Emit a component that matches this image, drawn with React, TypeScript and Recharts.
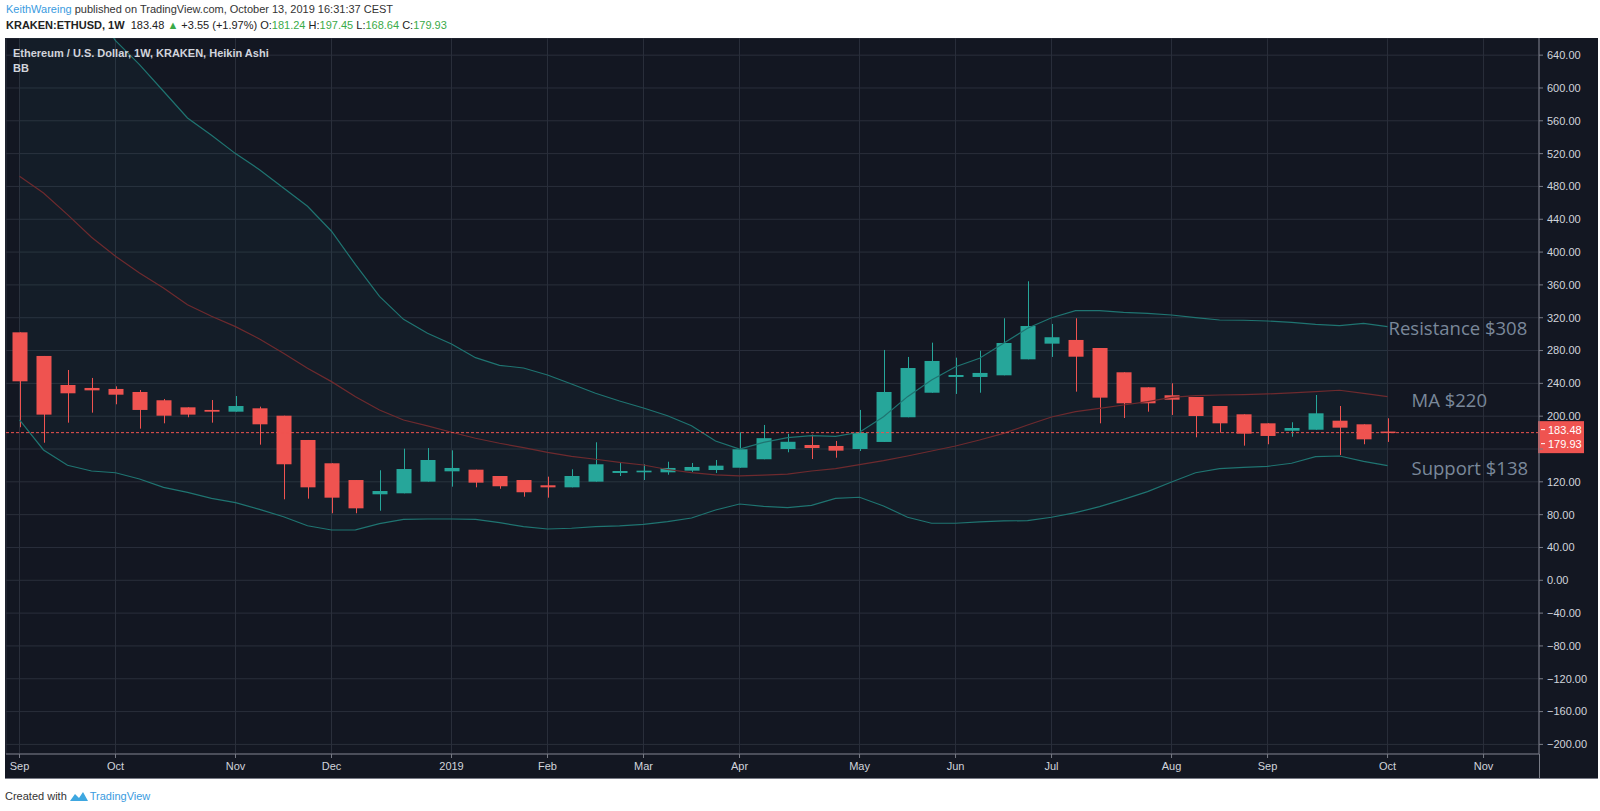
import {
  ComposedChart,
  Bar,
  Line,
  Area,
  XAxis,
  YAxis,
  CartesianGrid,
  ReferenceLine,
  ReferenceDot,
} from 'recharts';

// weekly Heikin Ashi candles, KRAKEN:ETHUSD, week of Sep 3 2018 -> week of Oct 7 2019
const opens = [
  302.2, 273.4, 238.0, 234.4, 233.2, 229.5, 219.4, 210.8, 207.6, 205.5,
  209.6, 200.6, 171.0, 142.6, 122.2, 104.8, 106.0, 120.2, 132.8, 134.8,
  127.1, 122.2, 115.8, 113.3, 120.2, 130.8, 131.6, 131.6, 133.6, 134.4,
  137.2, 147.5, 160.0, 164.9, 163.7, 160.0, 168.6, 198.7, 228.6, 247.8,
  247.8, 249.8, 269.3, 288.4, 292.9, 283.1, 253.5, 235.2, 225.5, 223.4,
  212.4, 202.3, 191.3, 182.3, 183.5, 194.5, 190.1, 181.24,
];
const highs = [
  302.2, 273.4, 256.3, 246.6, 236.4, 231.9, 221.0, 210.8, 219.7, 224.6,
  211.6, 200.6, 171.0, 142.6, 122.2, 134.1, 160.4, 161.2, 158.4, 134.8,
  127.1, 122.2, 126.3, 135.3, 168.2, 143.0, 141.4, 144.5, 143.0, 146.6,
  180.4, 189.3, 178.5, 177.5, 169.8, 207.6, 280.7, 272.2, 289.6, 271.3,
  279.8, 319.3, 364.4, 312.4, 319.3, 283.1, 253.5, 235.2, 240.1, 223.4,
  212.4, 202.3, 191.3, 192.6, 225.8, 212.4, 190.1, 197.45,
];
const lows = [
  186.5, 167.7, 192.1, 204.3, 214.5, 184.8, 191.3, 198.7, 192.1, 205.5,
  165.3, 98.7, 99.5, 81.7, 81.7, 84.8, 106.0, 120.2, 114.1, 113.3,
  111.6, 101.9, 100.7, 113.3, 120.2, 127.1, 122.2, 128.7, 132.0, 130.8,
  137.2, 147.5, 156.0, 147.8, 149.4, 157.6, 168.6, 198.7, 228.6, 227.1,
  228.6, 249.8, 269.3, 272.2, 229.9, 191.3, 197.8, 205.5, 201.5, 174.3,
  179.9, 164.1, 165.8, 175.0, 183.5, 152.7, 165.8, 168.64,
];
const closes = [
  242.5, 201.9, 227.9, 231.5, 226.2, 207.6, 200.6, 201.9, 205.5, 212.4,
  190.1, 141.4, 113.3, 100.7, 87.7, 108.8, 135.6, 146.6, 136.9, 119.0,
  114.6, 107.3, 113.3, 127.1, 141.4, 133.2, 133.6, 136.9, 138.1, 139.7,
  159.7, 173.2, 168.8, 161.2, 158.0, 179.5, 229.5, 258.7, 267.3, 250.2,
  252.7, 289.2, 309.9, 296.2, 272.5, 222.6, 215.7, 215.7, 220.1, 200.2,
  191.3, 178.7, 175.9, 185.6, 203.5, 186.0, 171.8, 179.93,
];

// Bollinger Bands (20, 2)
const bbUpper = [
  789, 785, 751, 703, 657.6, 628.4, 596, 563.4, 542.4, 520,
  500.4, 478.1, 455.8, 425.4, 384.6, 346, 318, 301, 288, 271.3,
  262, 258.7, 250.2, 239.2, 227.9, 218.5, 210, 200.6, 188.4, 169.8,
  160, 168, 173.8, 176.3, 175.5, 180.4, 199.4, 223.8, 244.1, 260.3,
  270.6, 288.8, 307.1, 320, 328.6, 328.6, 326.6, 325.4, 323.3, 320,
  317.2, 316.9, 316, 314.4, 312, 310.3, 313.2, 309.1,
];
const bbBasis = [
  492.4, 472, 445.6, 418, 394.9, 374.5, 356.2, 335.9, 321.8, 309.1,
  294.1, 276.7, 258.4, 242.1, 223.8, 207.6, 195.4, 188.1, 180.4, 173.1,
  167, 161.6, 156, 151.1, 147.5, 143.8, 140.5, 135, 131.3, 128.5,
  127.3, 128.2, 129.4, 133.2, 136, 141, 145.8, 151.5, 157.6, 163.7,
  171, 179, 189.3, 199, 205.5, 209.6, 213.6, 217.7, 223, 225,
  225.8, 226.2, 227.1, 228.3, 229.9, 231.6, 227.9, 223.8,
];
const bbLower = [
  195.4, 158.8, 140.2, 133.2, 131.1, 123.5, 113.3, 107.2, 99.9, 94.6,
  86.5, 77.5, 66.5, 61.3, 61.5, 69, 74.3, 74.7, 74.7, 74.3,
  70.2, 65.3, 62.5, 63.4, 65.3, 66.2, 68.2, 71.4, 75.9, 85.7,
  93, 90, 88.5, 91.4, 99.9, 101.2, 90.6, 76.8, 69.5, 69.5,
  71.1, 72.3, 72.7, 76.8, 82.4, 89.7, 98.7, 108, 119.8, 131.1,
  136, 137.7, 138.9, 142.6, 150.6, 151.5, 145, 139.7,
];

const monthTicks = [0, 4, 9, 13, 18, 22, 26, 30, 35, 39, 43, 48, 52, 57, 61];
const monthLabels = ['Sep', 'Oct', 'Nov', 'Dec', '2019', 'Feb', 'Mar', 'Apr', 'May', 'Jun', 'Jul', 'Aug', 'Sep', 'Oct', 'Nov'];
const priceTicks = [-200, -160, -120, -80, -40, 0, 40, 80, 120, 160, 200, 240, 280, 320, 360, 400, 440, 480, 520, 560, 600, 640];
// tick covered by the last-price tag on the axis
const hiddenTick = 160;

const levelLabels = ['Resistance $308', 'MA $220', 'Support $138'];
const levelValues = [308, 220, 138];

const lastPrice = 183.48;
const lastClose = 179.93;

const data = opens.map((o, i) => ({
  i,
  open: o,
  high: highs[i],
  low: lows[i],
  close: closes[i],
  upper: bbUpper[i],
  basis: bbBasis[i],
  lower: bbLower[i],
}));

const UP = '#26a69a';
const DOWN = '#ef5350';
const AXIS_TEXT = '#d1d4dc';
const FONT = '"Liberation Sans", Arial, sans-serif';

function Candle(props: any) {
  const { x, y, width, height, payload } = props;
  if (!payload) return null;
  const top = Math.min(y, y + height);
  const h = Math.abs(height);
  const { open, close, high, low } = payload;
  const ppu = h / (high - low);
  const py = (v: number) => top + (high - v) * ppu;
  const color = close >= open ? UP : DOWN;
  const cx = Math.round(x + width / 2) + 0.5;
  const bTop = py(Math.max(open, close));
  const bBot = py(Math.min(open, close));
  return (
    <g>
      <line x1={cx} x2={cx} y1={top} y2={top + h} stroke={color} strokeWidth={1} />
      <rect x={x} y={bTop} width={width} height={Math.max(1.5, bBot - bTop)} fill={color} />
    </g>
  );
}

function PriceTag(props: any) {
  const vb = props.viewBox;
  if (!vb) return null;
  const right = vb.x + vb.width;
  const y = vb.y;
  return (
    <g>
      <rect x={right - 1} y={y - 11.5} width={46} height={32} fill={DOWN} />
      <line x1={right + 2} x2={right + 6} y1={y - 3} y2={y - 3} stroke="#fff" />
      <line x1={right + 2} x2={right + 6} y1={y + 11} y2={y + 11} stroke="#fff" />
      <text x={right + 9} y={y - 3} dominantBaseline="central" fill="#fff" fontSize={11} fontFamily={FONT}>
        {lastPrice.toFixed(2)}
      </text>
      <text x={right + 9} y={y + 11} dominantBaseline="central" fill="#fff" fontSize={11} fontFamily={FONT}>
        {lastClose.toFixed(2)}
      </text>
    </g>
  );
}

function levelLabel(text: string, dx: number) {
  return (props: any) => {
    const vb = props.viewBox;
    if (!vb) return null;
    const cx = vb.x + (vb.width || 0) / 2;
    const cy = vb.y + (vb.height || 0) / 2;
    return (
      <text
        x={cx + dx}
        y={cy}
        dominantBaseline="central"
        fill="#7a889a"
        fontSize={18.5}
        fontFamily='"Open Sans", sans-serif'
      >
        {text}
      </text>
    );
  };
}

const fmtPrice = (v: number) => {
  if (v === hiddenTick) return '';
  return v < 0 ? '\u2212' + Math.abs(v).toFixed(2) : v.toFixed(2);
};

export default function App() {
  const lastIdx = opens.length - 1;
  return (
    <div style={{ position: 'absolute', left: 0, top: 0, width: 1600, height: 811, background: '#fff', fontFamily: FONT }}>
      <div style={{ position: 'absolute', left: 6, top: 3, fontSize: 11, lineHeight: '13px', color: '#333', whiteSpace: 'nowrap' }}>
        <span style={{ color: '#3a9be0' }}>KeithWareing</span> published on TradingView.com, October 13, 2019 16:31:37 CEST
      </div>
      <div style={{ position: 'absolute', left: 6, top: 19, fontSize: 11, lineHeight: '13px', color: '#222', whiteSpace: 'nowrap' }}>
        <b style={{ fontWeight: 600 }}>KRAKEN:ETHUSD, 1W</b>&nbsp; 183.48 <span style={{ color: '#3aaa48' }}>▲</span> +3.55 (+1.97%) O:
        <span style={{ color: '#3aaa48' }}>181.24</span> H:<span style={{ color: '#3aaa48' }}>197.45</span> L:
        <span style={{ color: '#3aaa48' }}>168.64</span> C:<span style={{ color: '#3aaa48' }}>179.93</span>
      </div>

      <div style={{ position: 'absolute', left: 5, top: 38, width: 1593, height: 741, background: '#131722' }}>
        <ComposedChart
          width={1593}
          height={741}
          data={data}
          margin={{ top: 0, right: 0, bottom: 0, left: 1 }}
        >
          <CartesianGrid stroke="#2a2f3b" strokeWidth={1} />
          <XAxis
            dataKey="i"
            type="number"
            domain={[-0.5625, 63.31]}
            allowDataOverflow
            ticks={monthTicks}
            interval={0}
            tickFormatter={(v: number) => monthLabels[monthTicks.indexOf(v)]}
            height={25}
            tickSize={4}
            tickMargin={4}
            stroke="#787b86"
            tick={{ fill: AXIS_TEXT, fontSize: 11, fontFamily: FONT }}
          />
          <YAxis
            orientation="right"
            type="number"
            domain={[-211.7, 660.9]}
            allowDataOverflow
            ticks={priceTicks}
            interval={0}
            tickFormatter={fmtPrice}
            width={59}
            tickSize={4}
            tickMargin={4}
            stroke="#787b86"
            tick={{ fill: AXIS_TEXT, fontSize: 11, fontFamily: FONT, textAnchor: 'start' }}
          />
          <Area
            dataKey={(d: any) => [d.lower, d.upper]}
            type="linear"
            stroke="none"
            fill={UP}
            fillOpacity={0.05}
            isAnimationActive={false}
          />
          <Line dataKey="upper" type="linear" stroke="#1f7471" strokeWidth={1.2} dot={false} activeDot={false} isAnimationActive={false} />
          <Line dataKey="basis" type="linear" stroke="#6e2a2e" strokeWidth={1.2} dot={false} activeDot={false} isAnimationActive={false} />
          <Line dataKey="lower" type="linear" stroke="#1f7471" strokeWidth={1.2} dot={false} activeDot={false} isAnimationActive={false} />
          <Bar
            dataKey={(d: any) => [d.low, d.high]}
            barSize={15}
            shape={<Candle />}
            isAnimationActive={false}
          />
          <ReferenceLine
            y={lastClose}
            stroke={DOWN}
            strokeDasharray="3 2"
            label={(p: any) => <PriceTag {...p} />}
          />
          {levelLabels.map((t, k) => (
            <ReferenceDot
              key={t}
              x={lastIdx}
              y={levelValues[k]}
              r={0}
              fill="none"
              stroke="none"
              label={levelLabel(t, k === 0 ? 1 : 24)}
            />
          ))}
        </ComposedChart>

        <div style={{ position: 'absolute', left: 8, top: 8, fontSize: 11, lineHeight: '15px', color: AXIS_TEXT, fontWeight: 600, whiteSpace: 'nowrap' }}>
          Ethereum / U.S. Dollar, 1W, KRAKEN, Heikin Ashi
          <br />
          BB
        </div>
        <div style={{ position: 'absolute', left: 1534, top: 716, width: 1, height: 25, background: '#787b86' }} />
        <div style={{ position: 'absolute', left: 0, top: 740, width: 1593, height: 1, background: '#787b86' }} />
      </div>

      <div style={{ position: 'absolute', left: 5, top: 789, fontSize: 11, lineHeight: '14px', color: '#333', whiteSpace: 'nowrap', display: 'flex', alignItems: 'center' }}>
        <span>Created with</span>
        <svg width={18} height={11} style={{ margin: '0 2px 0 3px' }}>
          <path d="M0 10 L5 3 L9 7 L13 1 L18 10 Z" fill="#3ea7e0" />
        </svg>
        <span style={{ color: '#3a9be0' }}>TradingView</span>
      </div>
    </div>
  );
}
